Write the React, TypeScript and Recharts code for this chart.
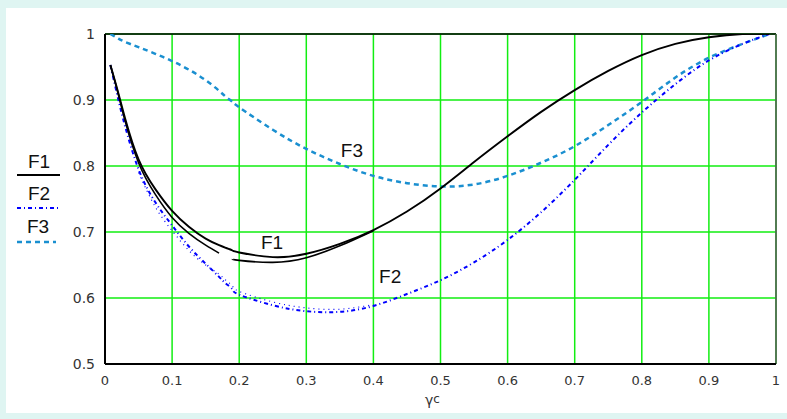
import { LineChart, Line, XAxis, YAxis, CartesianGrid, ReferenceLine, ReferenceDot } from "recharts"

// x positions (gamma c)
const xs = [0.008, 0.02, 0.03, 0.05, 0.075, 0.1, 0.125, 0.15, 0.17, 0.18, 0.19, 0.2, 0.25, 0.3, 0.35, 0.4, 0.45, 0.5, 0.55, 0.6, 0.65, 0.7, 0.75, 0.8, 0.85, 0.9, 0.95, 0.99]

const f1 = [0.953, 0.91, 0.872, 0.81, 0.765, 0.732, 0.708, 0.69, 0.68, 0.676, 0.672, 0.669, 0.662, 0.667, 0.682, 0.703, 0.731, 0.766, 0.806, 0.845, 0.882, 0.915, 0.944, 0.968, 0.985, 0.995, 1.0, 1.0]
const f1b = [0.953, 0.908, 0.868, 0.805, 0.757, 0.722, 0.698, 0.68, 0.668, null, 0.659, 0.657, 0.654, 0.661, 0.679, 0.702, null, null, null, null, null, null, null, null, null, null, null, null]
const f2 = [0.953, 0.9, 0.86, 0.795, 0.745, 0.71, 0.678, 0.652, 0.632, 0.622, 0.613, 0.605, 0.589, 0.58, 0.579, 0.588, 0.606, 0.627, 0.654, 0.688, 0.73, 0.779, 0.832, 0.881, 0.924, 0.96, 0.985, 1.0]
const f2b = [null, null, null, 0.79, 0.738, 0.702, 0.672, 0.65, 0.636, 0.627, 0.618, 0.61, 0.594, 0.585, 0.583, 0.59, null, null, null, null, null, null, null, null, null, null, null, null]
const f3 = [1.0, 0.993, 0.988, 0.98, 0.97, 0.959, 0.946, 0.93, 0.914, 0.905, 0.897, 0.889, 0.855, 0.826, 0.803, 0.785, 0.774, 0.769, 0.772, 0.785, 0.805, 0.83, 0.862, 0.897, 0.934, 0.964, 0.985, 1.0]

const xTicks = [0, 0.1, 0.2, 0.3, 0.4, 0.5, 0.6, 0.7, 0.8, 0.9, 1]
const yTicks = [0.5, 0.6, 0.7, 0.8, 0.9, 1]

const data = xs.map((x, i) => ({ x, f1: f1[i], f1b: f1b[i], f2: f2[i], f2b: f2b[i], f3: f3[i] }))

const tickFont = { fontFamily: "DejaVu Sans, sans-serif", fontSize: 13, fill: "#333" }
const labelFont = { fontFamily: "Liberation Sans, Arial, sans-serif", fontSize: 19, fill: "#111" }

function Legendish() {
  return (
    <svg width={90} height={120} style={{ position: "absolute", left: 0, top: 140 }}>
      <text x={39} y={28} textAnchor="middle" {...labelFont}>F1</text>
      <line x1={17} x2={60} y1={35} y2={35} stroke="#000" strokeWidth={2} />
      <text x={39} y={60} textAnchor="middle" {...labelFont}>F2</text>
      <line x1={17} x2={59} y1={68} y2={68} stroke="#0000ff" strokeWidth={2} strokeDasharray="4 3 1 3" />
      <text x={38} y={93} textAnchor="middle" {...labelFont}>F3</text>
      <line x1={17} x2={56} y1={102} y2={102} stroke="#1a8fd0" strokeWidth={2.5} strokeDasharray="5 4" />
    </svg>
  )
}

export default function App() {
  return (
    <div style={{ position: "fixed", left: 0, top: 0, width: 787, height: 419, background: "#dff5f2" }}>
      <div style={{ position: "absolute", left: 6, top: 8, width: 781, height: 405, background: "#fff" }} />
      <div style={{ position: "absolute", left: 0, top: 0 }}>
        <LineChart width={787} height={419} data={data} margin={{ top: 34, right: 11, bottom: 25, left: 60 }}>
          <CartesianGrid stroke="#11ee11" strokeWidth={1.5} />
          <XAxis
            dataKey="x"
            type="number"
            domain={[0, 1]}
            ticks={xTicks}
            tickLine={false}
            axisLine={{ stroke: "#000", strokeWidth: 2 }}
            tick={tickFont}
            tickMargin={6}
            height={30}
            allowDataOverflow
          />
          <YAxis
            type="number"
            domain={[0.5, 1]}
            ticks={yTicks}
            tickLine={false}
            axisLine={{ stroke: "#000", strokeWidth: 2 }}
            tick={{ ...tickFont, fontSize: 14 }}
            tickMargin={4}
            width={45}
            allowDataOverflow
          />
          <ReferenceLine y={1} stroke="#000" strokeWidth={1.5} />
          <ReferenceLine x={1} stroke="#555" strokeWidth={1.5} />
          <Line dataKey="f3" type="natural" stroke="#1a8fd0" strokeWidth={2.5} strokeDasharray="5 4" dot={false} isAnimationActive={false} />
          <Line dataKey="f2b" type="natural" stroke="#0000ff" strokeWidth={1.2} strokeDasharray="1 4" dot={false} isAnimationActive={false} />
          <Line dataKey="f2" type="natural" stroke="#0000ff" strokeWidth={2} strokeDasharray="4 3 1 3" dot={false} isAnimationActive={false} />
          <Line dataKey="f1b" type="natural" stroke="#000" strokeWidth={1.6} dot={false} isAnimationActive={false} />
          <Line dataKey="f1" type="natural" stroke="#000" strokeWidth={1.9} dot={false} isAnimationActive={false} />
          <ReferenceDot x={0.249} y={0.685} r={0} label={{ value: "F1", position: "center", ...labelFont }} />
          <ReferenceDot x={0.425} y={0.633} r={0} label={{ value: "F2", position: "center", ...labelFont }} />
          <ReferenceDot x={0.368} y={0.824} r={0} label={{ value: "F3", position: "center", ...labelFont }} />
        </LineChart>
      </div>
      <Legendish />
      <div style={{ position: "absolute", left: 425, top: 392, fontFamily: "DejaVu Sans, sans-serif", fontSize: 14, color: "#333" }}>
        γ<span style={{ fontSize: 12, verticalAlign: "2px" }}>c</span>
      </div>
    </div>
  )
}
